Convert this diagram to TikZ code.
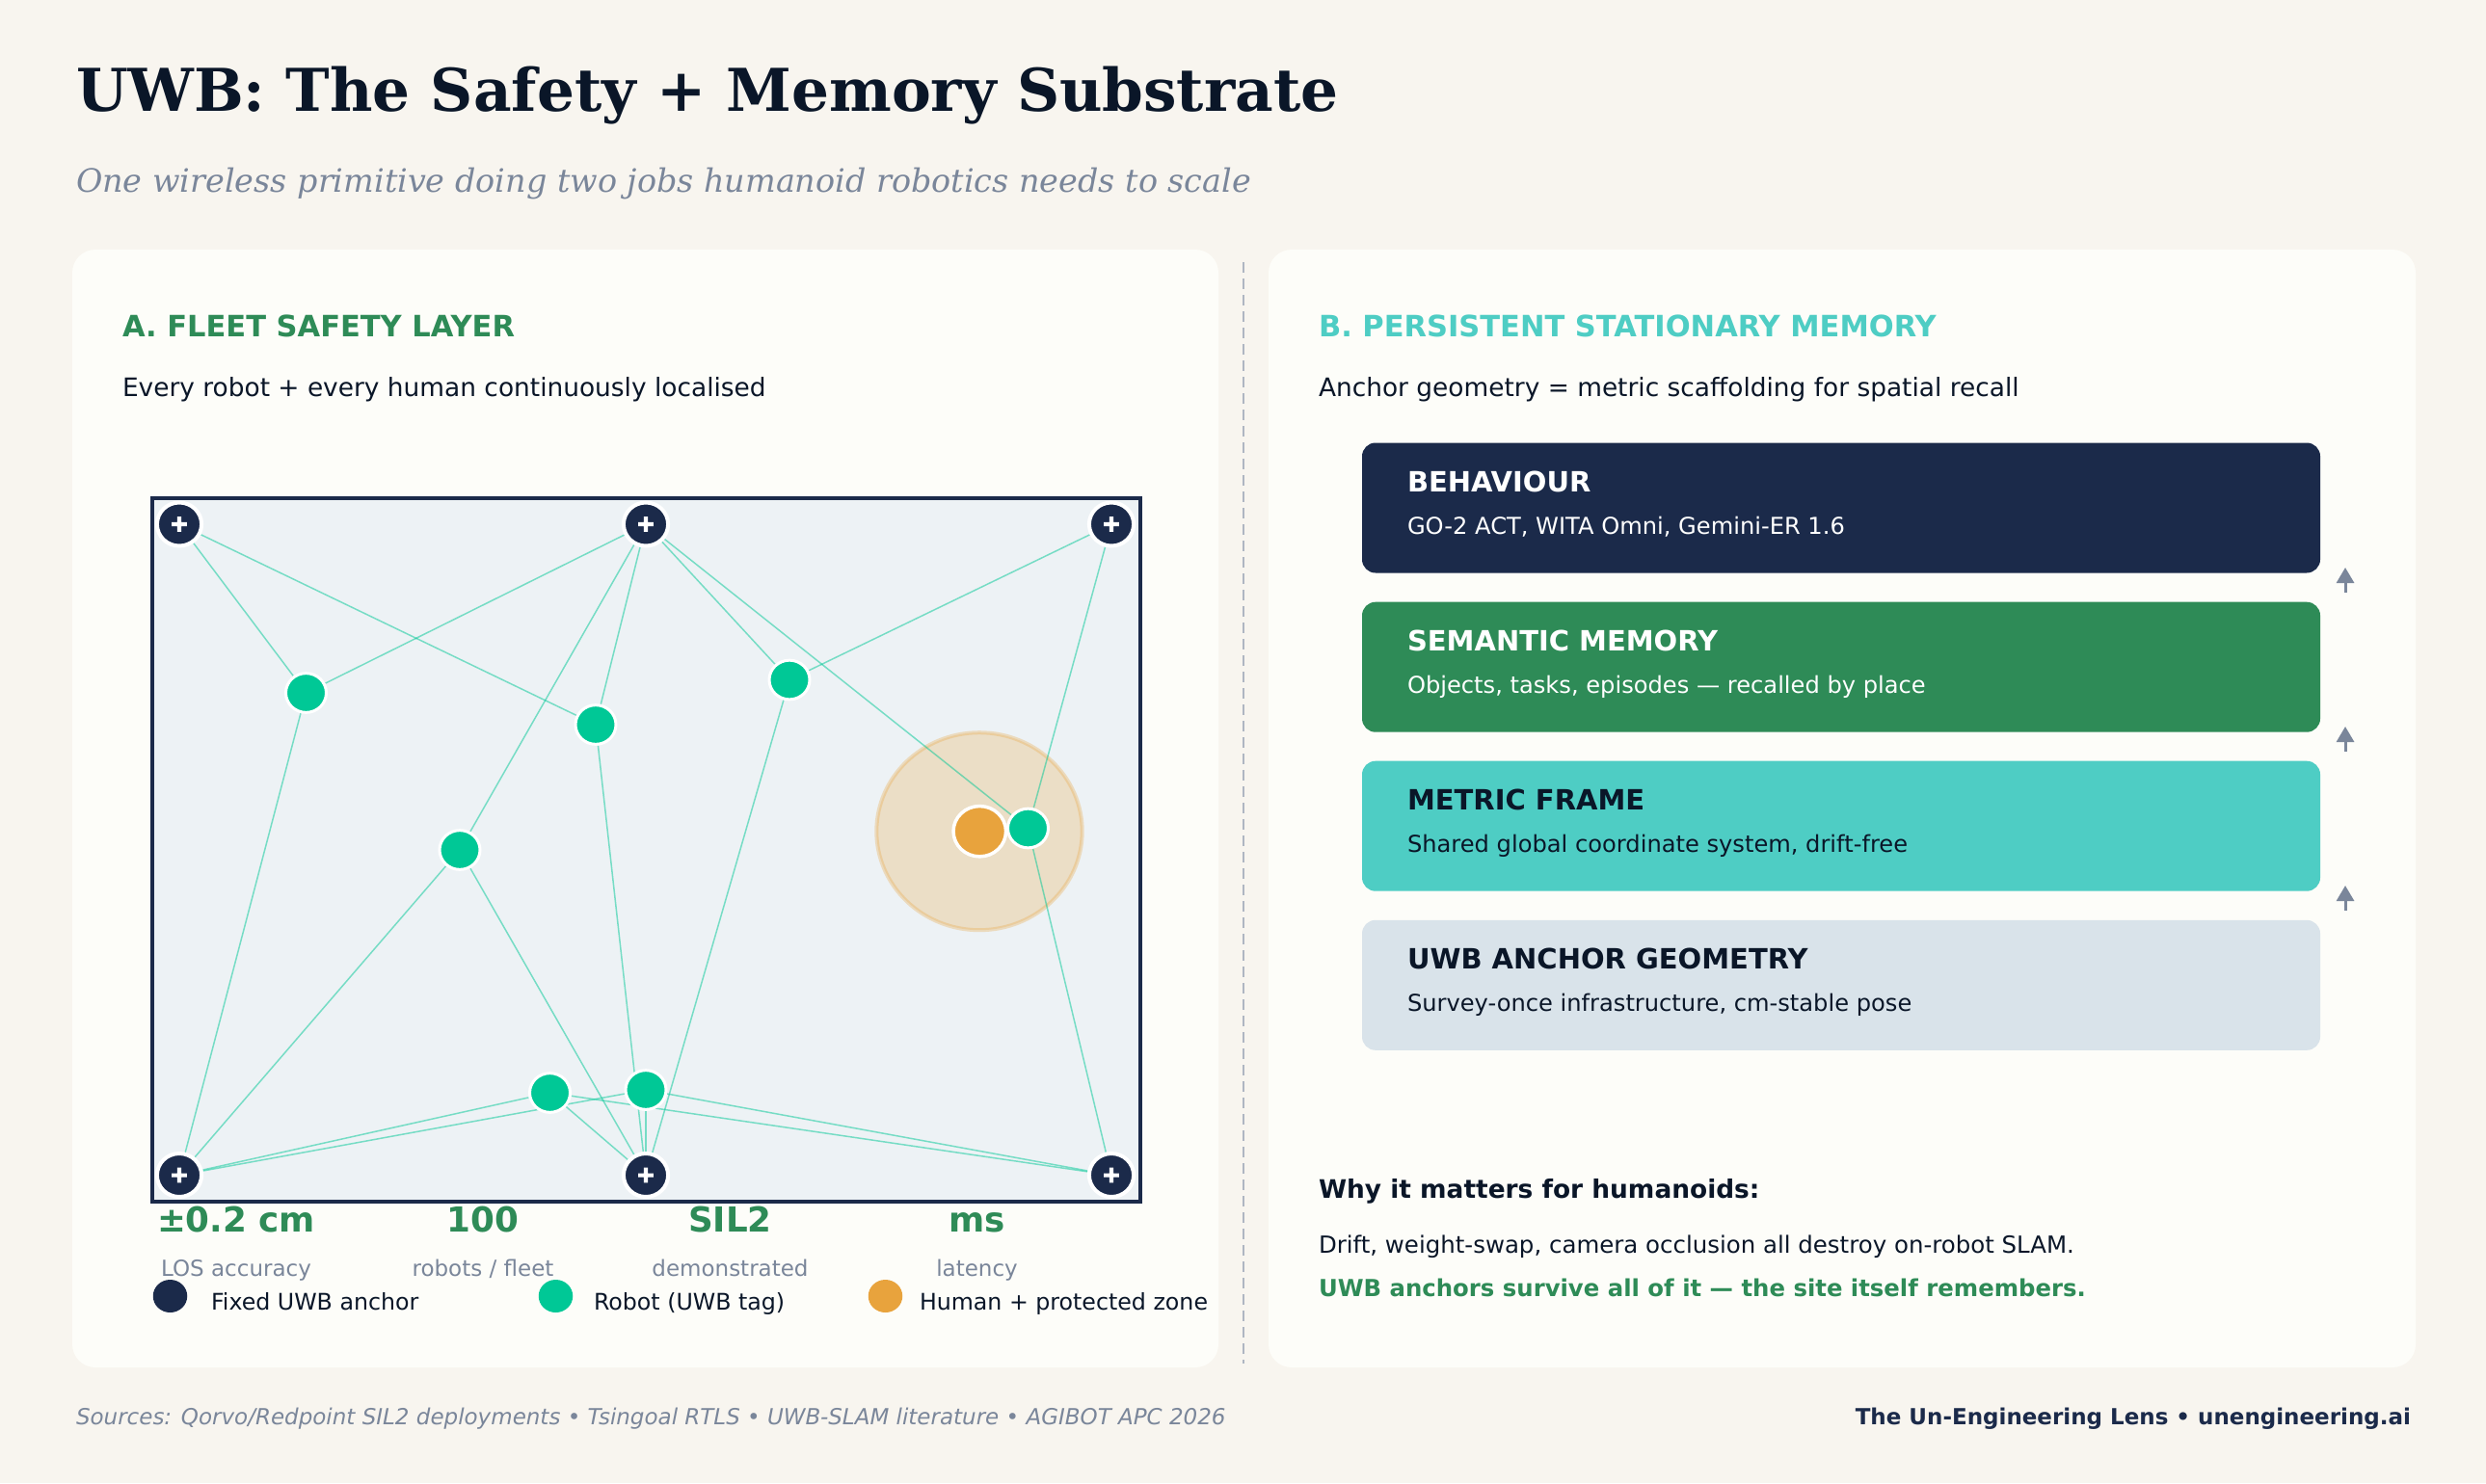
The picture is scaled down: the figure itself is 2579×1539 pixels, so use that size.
\documentclass[tikz,border=0pt]{standalone}
\usepackage{fontspec}
\setmainfont{DejaVu Sans}
\newfontfamily\serifface{DejaVu Serif}
\newfontfamily\plusface[FakeBold=6]{DejaVu Sans Bold}
\usetikzlibrary{arrows.meta,shapes.geometric}
\pgfdeclarelayer{backlayer}
\pgfsetlayers{backlayer,main}
\definecolor{pagebg}{HTML}{F8F5EF}
\definecolor{panelbg}{HTML}{FDFDF9}
\definecolor{navy}{HTML}{1B2A4A}
\definecolor{ink}{HTML}{0A1628}
\definecolor{leaf}{HTML}{2E8B57}
\definecolor{teal}{HTML}{4ECDC4}
\definecolor{mist}{HTML}{D9E3EA}
\definecolor{slate}{HTML}{7A869A}
\definecolor{mint}{HTML}{00C896}
\definecolor{amber}{HTML}{E8A33D}
\definecolor{mapbg}{HTML}{EDF2F5}
\newcommand{\fsz}[1]{\fontsize{#1}{#1}\selectfont}
\tikzset{
  txt/.style={inner sep=0pt,outer sep=0pt,anchor=base west},
  txtc/.style={inner sep=0pt,outer sep=0pt,anchor=base},
  txte/.style={inner sep=0pt,outer sep=0pt,anchor=base east},
  panel/.style={fill=panelbg,draw=none,rounded corners=24pt},
  layerbox/.style={draw=none,rounded corners=14pt},
  anchorpt/.style={ellipse,fill=navy,draw=white,line width=4pt,minimum width=46.2pt,minimum height=45pt,inner sep=0pt,text=white,font=\plusface\fsz{23}},
  robot/.style={ellipse,fill=mint,draw=white,line width=3pt,minimum width=42pt,minimum height=40.7pt,inner sep=0pt},
  human/.style={ellipse,fill=amber,draw=white,line width=3.5pt,minimum width=54.5pt,minimum height=52.3pt,inner sep=0pt},
  link/.style={draw=mint,draw opacity=.5,line width=1.5pt},
  stackarrow/.style={draw=slate,line width=3pt,-{Triangle[length=16pt,width=18pt]},fill=slate},
  legenddot/.style={ellipse,draw=none,minimum width=35.5pt,minimum height=34pt,inner sep=0pt},
  statval/.style={txtc,font=\fsz{35.7}\bfseries,text=leaf},
  statlab/.style={txtc,font=\fsz{23},text=slate},
  legendtxt/.style={txt,font=\fsz{23.7},text=ink},
  boxtitle/.style={txt,font=\fsz{29}\bfseries},
  boxsub/.style={txt,font=\fsz{24.15}},
}
\begin{document}
\begin{tikzpicture}[x=1pt,y=-1pt]
\useasboundingbox (0,0) rectangle (2579,1539);
\begin{pgfonlayer}{backlayer}
\fill[pagebg] (0,0) rectangle (2579,1539);
\fill[panel] (75,259) rectangle (1264,1419);
\fill[panel] (1316,259) rectangle (2506,1419);
\coordinate (divtop) at (1290,272);
\coordinate (divbot) at (1290,1415);
\draw[draw=slate!60,line width=1.5pt,dash pattern=on 11pt off 6pt] (divtop) -- (divbot);
\draw[fill=mapbg,draw=navy,line width=3.5pt] (158,517) rectangle (1183,1247);
\fill[amber,fill opacity=.25,draw=amber,draw opacity=.3,line width=4pt] (1016,862.7) ellipse [x radius=106.7,y radius=102.5];
\end{pgfonlayer}

\node[txt,font=\serifface\bfseries\fsz{61.2},text=ink] (title) at (79,115) {UWB: The Safety + Memory Substrate};
\node[txt,font=\serifface\itshape\fsz{33.4},text=slate] (subtitle) at (79,199) {One wireless primitive doing two jobs humanoid robotics needs to scale};

\node[txt,font=\fsz{30.5}\bfseries,text=leaf] (ahead) at (127,349) {A. FLEET SAFETY LAYER};
\node[txt,font=\fsz{26.4},text=ink] (asub) at (127,411) {Every robot + every human continuously localised};
\node[txt,font=\fsz{30.5}\bfseries,text=teal] (bhead) at (1368,349) {B. PERSISTENT STATIONARY MEMORY};
\node[txt,font=\fsz{26.4},text=ink] (bsub) at (1368,411) {Anchor geometry = metric scaffolding for spatial recall};

% anchors
\node[anchorpt] (tl) at (186,544) {+};
\node[anchorpt] (tm) at (670,544) {+};
\node[anchorpt] (tr) at (1153,544) {+};
\node[anchorpt] (bl) at (186,1219.5) {+};
\node[anchorpt] (bm) at (670,1219.5) {+};
\node[anchorpt] (br) at (1153,1219.5) {+};
% human and robots
\node[human] (hum) at (1016.3,862.7) {};
\node[robot] (r1) at (317.5,719) {};
\node[robot] (r2) at (618,752) {};
\node[robot] (r3) at (819,705.5) {};
\node[robot] (r4) at (477,882) {};
\node[robot] (r5) at (1066.5,859.5) {};
\node[robot] (r6) at (570.5,1134) {};
\node[robot] (r7) at (670,1131) {};
\begin{pgfonlayer}{backlayer}
\foreach \a/\b in {r1/tl,r1/tm,r1/bl,r2/tl,r2/tm,r2/bm,r3/tm,r3/tr,r3/bm,r4/tm,r4/bl,r4/bm,r5/tm,r5/tr,r5/br,r6/bl,r6/bm,r6/br,r7/bl,r7/bm,r7/br}
  \draw[link] (\a) -- (\b);
\end{pgfonlayer}

% stats
\node[statval] (s1) at (245,1278) {±0.2 cm};
\node[statval] (s2) at (501,1278) {100};
\node[statval] (s3) at (757.5,1278) {SIL2};
\node[statval] (s4) at (1013.5,1278) {ms};
\node[statlab] (l1) at (245,1324) {LOS accuracy};
\node[statlab] (l2) at (501,1324) {robots / fleet};
\node[statlab] (l3) at (757.5,1324) {demonstrated};
\node[statlab] (l4) at (1013.5,1324) {latency};

% legend
\node[legenddot,fill=navy] (k1) at (176.5,1345) {};
\node[legenddot,fill=mint] (k2) at (576.5,1345) {};
\node[legenddot,fill=amber] (k3) at (918.5,1345) {};
\node[legendtxt] (kt1) at (219,1359) {Fixed UWB anchor};
\node[legendtxt] (kt2) at (616,1359) {Robot (UWB tag)};
\node[legendtxt] (kt3) at (954,1359) {Human + protected zone};

% stack
\fill[layerbox,fill=navy] (1413,459.5) rectangle (2407,594.5);
\fill[layerbox,fill=leaf] (1413,624.7) rectangle (2407,759.7);
\fill[layerbox,fill=teal] (1413,789.7) rectangle (2407,924.7);
\fill[layerbox,fill=mist] (1413,954.8) rectangle (2407,1089.8);
\node[boxtitle,text=white] (t1) at (1460,510.5) {BEHAVIOUR};
\node[boxsub,text=white] (u1) at (1460,554) {GO-2 ACT, WITA Omni, Gemini-ER 1.6};
\node[boxtitle,text=white] (t2) at (1460,675.5) {SEMANTIC MEMORY};
\node[boxsub,text=white] (u2) at (1460,719) {Objects, tasks, episodes — recalled by place};
\node[boxtitle,text=ink] (t3) at (1460,840.5) {METRIC FRAME};
\node[boxsub,text=ink] (u3) at (1460,884) {Shared global coordinate system, drift-free};
\node[boxtitle,text=ink] (t4) at (1460,1005.5) {UWB ANCHOR GEOMETRY};
\node[boxsub,text=ink] (u4) at (1460,1049) {Survey-once infrastructure, cm-stable pose};

\coordinate (a1s) at (2433,615);
\coordinate (a1e) at (2433,589);
\coordinate (a2s) at (2433,780);
\coordinate (a2e) at (2433,754);
\coordinate (a3s) at (2433,945);
\coordinate (a3e) at (2433,919);
\draw[stackarrow] (a1s) -- (a1e);
\draw[stackarrow] (a2s) -- (a2e);
\draw[stackarrow] (a3s) -- (a3e);

% why
\node[txt,font=\fsz{26.4}\bfseries,text=ink] (w1) at (1368,1243) {Why it matters for humanoids:};
\node[txt,font=\fsz{24.45},text=ink] (w2) at (1368,1300) {Drift, weight-swap, camera occlusion all destroy on-robot SLAM.};
\node[txt,font=\fsz{24.35}\bfseries,text=leaf] (w3) at (1368,1345) {UWB anchors survive all of it — the site itself remembers.};

% footer
\node[txt,font=\fsz{23}\itshape,text=slate] (f1) at (79,1478) {Sources: Qorvo/Redpoint SIL2 deployments • Tsingoal RTLS • UWB-SLAM literature • AGIBOT APC 2026};
\node[txte,font=\fsz{23}\bfseries,text=navy] (f2) at (2501,1478) {The Un-Engineering Lens • unengineering.ai};
\end{tikzpicture}
\end{document}
